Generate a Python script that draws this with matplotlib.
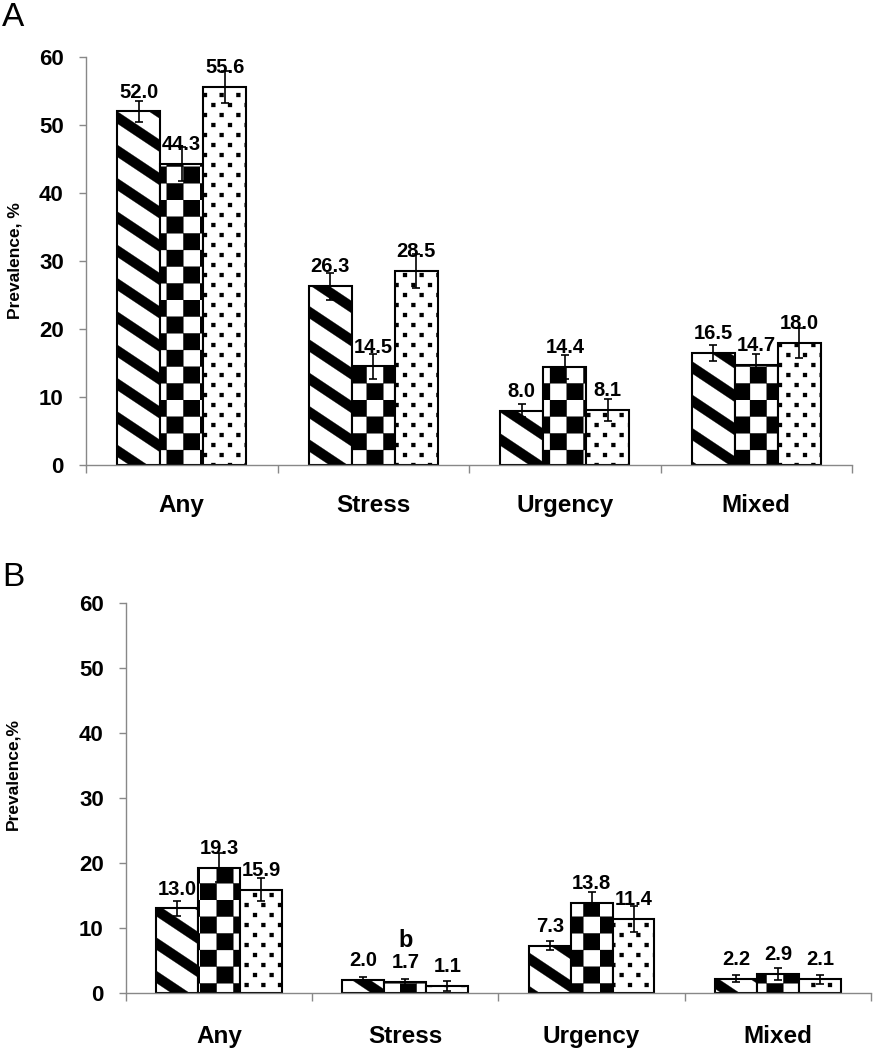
import warnings

import matplotlib
matplotlib.use('Agg')
import matplotlib.hatch as mhatch
import matplotlib.pyplot as plt
import numpy as np
from matplotlib.path import Path

warnings.filterwarnings('ignore')

categories = ['Any', 'Stress', 'Urgency', 'Mixed']

# panel A
a_stripe = [52.0, 26.3, 8.0, 16.5]
a_check = [44.3, 14.5, 14.4, 14.7]
a_dots = [55.6, 28.5, 8.1, 18.0]
a_stripe_err = [1.5, 2.0, 1.0, 1.2]
a_check_err = [2.5, 1.8, 1.8, 1.7]
a_dots_err = [2.3, 2.5, 1.6, 2.2]

# panel B
b_stripe = [13.0, 2.0, 7.3, 2.2]
b_check = [19.3, 1.7, 13.8, 2.9]
b_dots = [15.9, 1.1, 11.4, 2.1]
b_stripe_err = [1.2, 0.5, 0.7, 0.5]
b_check_err = [2.3, 0.5, 1.8, 0.9]
b_dots_err = [1.8, 0.8, 2.0, 0.7]

GREY = '#888888'


class TileHatch(mhatch.HatchPatternBase):
    """Filled quads on the 1x1 hatch tile, switched on by one letter."""
    key = None
    shapes = []

    def __init__(self, hatch, density):
        self.num_vertices = 5 * len(self.shapes) if self.key and self.key in hatch else 0

    def set_vertices_and_codes(self, vertices, codes):
        for i, shape in enumerate(self.shapes):
            vertices[5 * i:5 * i + 4] = shape
            vertices[5 * i + 4] = shape[0]
            codes[5 * i] = Path.MOVETO
            codes[5 * i + 1:5 * i + 4] = Path.LINETO
            codes[5 * i + 4] = Path.CLOSEPOLY


def stripe_shapes(thick=0.12):
    out = []
    for k in range(7):
        y0 = k / 3
        out.append([(0, y0), (1, y0 - 2 / 3), (1, y0 - 2 / 3 - thick), (0, y0 - thick)])
    return out


def check_shapes(n=6):
    s = 1 / n
    out = []
    for i in range(n):
        for j in range(n):
            if (i + j) % 2 == 0:
                x0, y0 = i * s, j * s
                out.append([(x0, y0), (x0 + s, y0), (x0 + s, y0 + s), (x0, y0 + s)])
    return out


def dot_shapes(rows=10, cols=6, size=0.04):
    out = []
    for r in range(rows):
        for c in range(cols):
            x0 = c / cols + (r % 2) / (2 * cols) + 0.03
            y0 = r / rows + 0.03
            out.append([(x0, y0), (x0 + size, y0), (x0 + size, y0 + size), (x0, y0 + size)])
    return out


class StripeHatch(TileHatch):
    key = 'z'
    shapes = stripe_shapes()


class CheckHatch(TileHatch):
    key = 'c'
    shapes = check_shapes()


class DotHatch(TileHatch):
    key = 'd'
    shapes = dot_shapes()


mhatch._hatch_types.extend([StripeHatch, CheckHatch, DotHatch])

plt.rcParams['font.family'] = ['Liberation Sans', 'DejaVu Sans']
plt.rcParams['hatch.linewidth'] = 0.2
plt.rcParams['hatch.color'] = 'black'

hatches = ['z', 'c', 'd']


def draw_panel(ax, groups, errs, label_pad):
    x = np.arange(len(categories)) + 0.5
    w = 0.225
    for j, (vals, err) in enumerate(zip(groups, errs)):
        pos = x + (j - 1) * w
        ax.bar(pos, vals, w, color='white', edgecolor='black', linewidth=1.5,
               hatch=hatches[j], zorder=2)
        ax.errorbar(pos, vals, yerr=err, fmt='none', ecolor='black', elinewidth=1.2,
                    capsize=3, capthick=1.2, zorder=3)
        for p, v in zip(pos, vals):
            ax.annotate(f'{v:.1f}', (p, v), xytext=(0, 10), textcoords='offset points',
                        ha='center', va='baseline', fontsize=14.5, fontweight='bold', zorder=4)

    ax.set_xlim(0, 4)
    ax.set_ylim(0, 60)
    ax.set_yticks(range(0, 61, 10))
    ax.set_xticks(x)
    ax.set_xticklabels(categories, fontsize=17.5, fontweight='bold')
    ax.set_xticks(range(5), minor=True)
    ax.tick_params(axis='x', which='major', length=0, pad=label_pad)
    ax.tick_params(axis='x', which='minor', length=6, color=GREY, width=1)
    ax.tick_params(axis='y', length=5, color=GREY, width=1, labelsize=16, pad=11)
    for lbl in ax.get_yticklabels():
        lbl.set_fontweight('bold')
    for side in ['top', 'right']:
        ax.spines[side].set_visible(False)
    for side in ['left', 'bottom']:
        ax.spines[side].set_color(GREY)
        ax.spines[side].set_linewidth(1)
    return x, w


fig = plt.figure(figsize=(8.76, 10.5), dpi=100)
ax_a = fig.add_axes([0.0982, 0.5571, 0.8744, 0.3886])
ax_b = fig.add_axes([0.1438, 0.0543, 0.8505, 0.3714])

draw_panel(ax_a, [a_stripe, a_check, a_dots],
           [a_stripe_err, a_check_err, a_dots_err], label_pad=21)
x, w = draw_panel(ax_b, [b_stripe, b_check, b_dots],
                  [b_stripe_err, b_check_err, b_dots_err], label_pad=23)

# significance mark over the Stress middle bar
ax_b.annotate('b', (x[1], b_check[1]), xytext=(0, 25), textcoords='offset points',
              ha='center', va='baseline', fontsize=17, fontweight='bold')

fig.text(0.002, 1 - 18 / 1050, 'A', fontsize=24, va='center', ha='left')
fig.text(0.002, 1 - 578 / 1050, 'B', fontsize=24, va='center', ha='left')
fig.text(15 / 876, 1 - 261 / 1050, 'Prevalence, %', rotation=90, fontsize=12.5,
         fontweight='bold', ha='center', va='center')
fig.text(13 / 876, 1 - 774 / 1050, 'Prevalence,%', rotation=90, fontsize=12.5,
         fontweight='bold', ha='center', va='center')

fig.savefig('out.png', dpi=100)
